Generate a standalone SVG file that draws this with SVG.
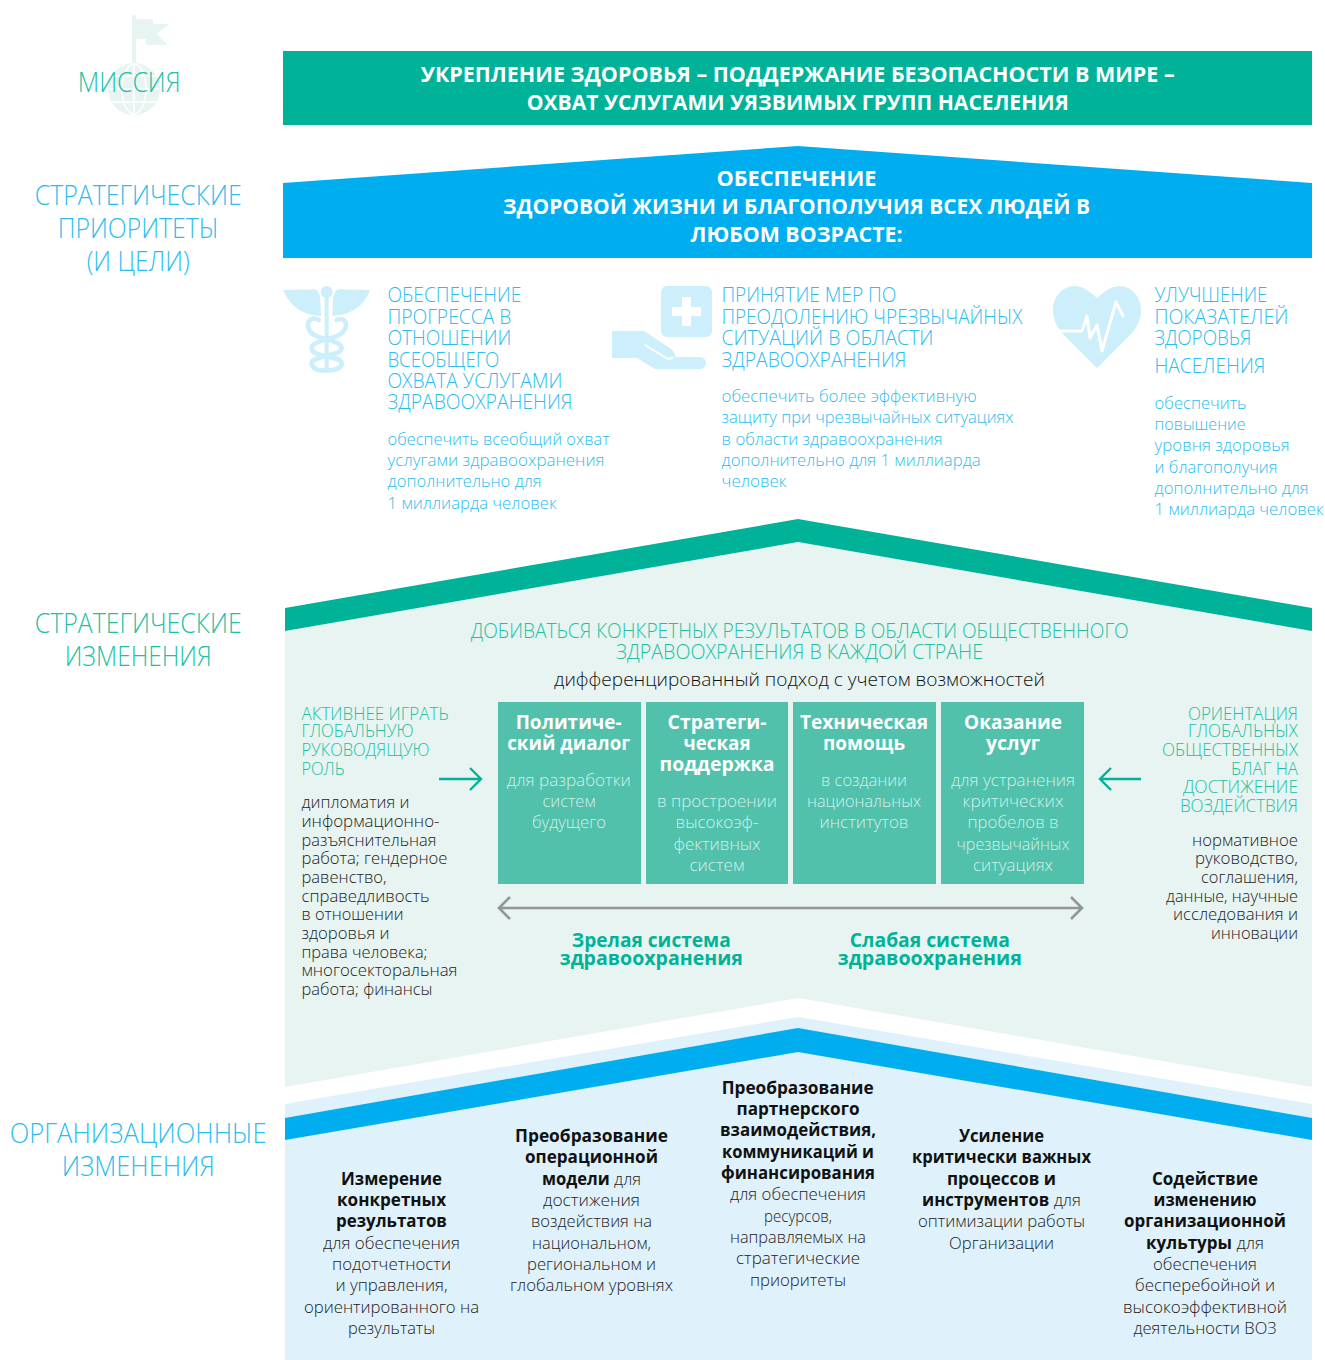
<svg xmlns="http://www.w3.org/2000/svg" width="1325" height="1360" viewBox="0 0 1325 1360">
<style>
text{font-family:"Open Sans","Noto Sans","Liberation Sans",sans-serif;white-space:pre}
.m{text-anchor:middle}.e{text-anchor:end}
.b{font-weight:700}
.side{font-size:28px;font-weight:300}
.sg{fill:#22BFA4}.sc{fill:#2CBCEE}
.ban{font-size:22px;font-weight:700;fill:#fff}
.h{font-size:20px;font-weight:300;fill:#2CBCEE}
.s{font-size:17px;font-weight:300;fill:#2CBCEE}
.g{font-size:20px;font-weight:300;fill:#22BFA4}
.gl{font-size:18px;font-weight:300;fill:#22BFA4}
.d{font-size:17px;font-weight:300;fill:#222}
.bt{font-size:20px;font-weight:700;fill:#fff}
.bs{font-size:17px;font-weight:300;fill:#D3F0E9}
.hs{font-size:19.5px;font-weight:700;fill:#00B398}
.o{font-size:17px;font-weight:300;fill:#222}
.ob{font-weight:700;fill:#111}
.ic{fill:#CDEEFB}.icg{fill:#E7F4F1}
.box{fill:#52C1AC}
.ar{fill:none;stroke:#00B398;stroke-width:2.4}
.ag{fill:none;stroke:#939598;stroke-width:2.6}
</style>

<g id="mission-icon">
<rect class="icg" x="132" y="15" width="4" height="55" rx="2"/>
<polygon class="icg" points="136,19 153,19 153,24 169,24 157,34 168,45 146,45 146,39 136,39"/>
<circle class="icg" cx="134" cy="89" r="26"/>
<g fill="none" stroke="#fff" stroke-width="1.6"><ellipse cx="134" cy="89" rx="12" ry="25"/><path d="M134 63V115M109 89H159M112 76H156M112 102H156"/></g>
</g>
<g id="mission-label"><text class="side sg m" x="129.200" y="92" textLength="103" lengthAdjust="spacingAndGlyphs">МИССИЯ</text></g>
<g id="mission">
<rect x="283" y="51" width="1029" height="74" fill="#00B398"/>
<text class="ban m" x="797.700" y="82" textLength="754" lengthAdjust="spacingAndGlyphs">УКРЕПЛЕНИЕ ЗДОРОВЬЯ – ПОДДЕРЖАНИЕ БЕЗОПАСНОСТИ В МИРЕ –</text>
<text class="ban m" x="797.700" y="110" textLength="542" lengthAdjust="spacingAndGlyphs">ОХВАТ УСЛУГАМИ УЯЗВИМЫХ ГРУПП НАСЕЛЕНИЯ</text>
</g>

<g id="priorities-label">
<text class="side sc m" x="138.200" y="205" textLength="207" lengthAdjust="spacingAndGlyphs">СТРАТЕГИЧЕСКИЕ</text>
<text class="side sc m" x="138.200" y="238" textLength="161" lengthAdjust="spacingAndGlyphs">ПРИОРИТЕТЫ</text>
<text class="side sc m" x="138.200" y="271" textLength="103" lengthAdjust="spacingAndGlyphs">(И ЦЕЛИ)</text>
</g>
<g id="priorities-roof">
<polygon points="283,183 798,146 1312,183 1312,258 283,258" fill="#00AEEF"/>
<text class="ban m" x="796.500" y="186" textLength="160" lengthAdjust="spacingAndGlyphs">ОБЕСПЕЧЕНИЕ</text>
<text class="ban m" x="796.500" y="214" textLength="587" lengthAdjust="spacingAndGlyphs">ЗДОРОВОЙ ЖИЗНИ И БЛАГОПОЛУЧИЯ ВСЕХ ЛЮДЕЙ В</text>
<text class="ban m" x="796.500" y="242" textLength="212" lengthAdjust="spacingAndGlyphs">ЛЮБОМ ВОЗРАСТЕ:</text>
</g>

<g id="priority-1">
<g id="caduceus" transform="translate(270 280) scale(.3333)">
<path class="ic" d="M40 30L135 28Q150 35 151 60L153 108Q100 105 72 78Q48 55 40 30Z"/>
<path class="ic" d="M300 30L205 28Q190 35 189 60L187 108Q240 105 268 78Q292 55 300 30Z"/>
<circle class="ic" cx="170" cy="36" r="18"/>
<rect class="ic" x="164" y="50" width="12" height="225"/>
<g fill="none" stroke="#CDEEFB" stroke-width="14" stroke-linecap="round">
<path d="M146 120C122 105 100 130 125 160"/>
<path d="M200 120C225 108 240 135 215 160C190 180 125 180 125 205C125 235 215 225 215 250C215 268 185 272 165 272"/>
<path d="M128 162C150 180 215 180 215 205C215 228 125 228 125 250C125 268 150 272 165 272"/>
</g>
</g>
<text class="h" x="387.400" y="302" textLength="134" lengthAdjust="spacingAndGlyphs">ОБЕСПЕЧЕНИЕ</text>
<text class="h" x="387.400" y="324" textLength="124" lengthAdjust="spacingAndGlyphs">ПРОГРЕССА В</text>
<text class="h" x="387.400" y="345" textLength="124" lengthAdjust="spacingAndGlyphs">ОТНОШЕНИИ</text>
<text class="h" x="387.400" y="367" textLength="112" lengthAdjust="spacingAndGlyphs">ВСЕОБЩЕГО</text>
<text class="h" x="387.400" y="388" textLength="175" lengthAdjust="spacingAndGlyphs">ОХВАТА УСЛУГАМИ</text>
<text class="h" x="387.400" y="409" textLength="185" lengthAdjust="spacingAndGlyphs">ЗДРАВООХРАНЕНИЯ</text>
<text class="s" x="387.600" y="445" textLength="222" lengthAdjust="spacingAndGlyphs">обеспечить всеобщий охват</text>
<text class="s" x="387.600" y="466" textLength="217" lengthAdjust="spacingAndGlyphs">услугами здравоохранения</text>
<text class="s" x="387.600" y="487" textLength="154" lengthAdjust="spacingAndGlyphs">дополнительно для</text>
<text class="s" x="387.600" y="509" textLength="169" lengthAdjust="spacingAndGlyphs">1 миллиарда человек</text>
</g>

<g id="priority-2">
<g id="hand">
<rect class="ic" x="661" y="286" width="51" height="51" rx="6"/>
<path d="M682 297H691V307H701V316H691V326H682V316H672V307H682Z" fill="#fff"/>
<path class="ic" d="M612 331H644L671 349Q676 353 675 357H700A6 6 0 0 1 700 369H655L637 358H612Z"/>
<path d="M645 345L666 358Q670 360 673 357" fill="none" stroke="#fff" stroke-width="2"/>
</g>
<text class="h" x="721.400" y="302" textLength="175" lengthAdjust="spacingAndGlyphs">ПРИНЯТИЕ МЕР ПО</text>
<text class="h" x="721.400" y="324" textLength="301" lengthAdjust="spacingAndGlyphs">ПРЕОДОЛЕНИЮ ЧРЕЗВЫЧАЙНЫХ</text>
<text class="h" x="721.400" y="345" textLength="212" lengthAdjust="spacingAndGlyphs">СИТУАЦИЙ В ОБЛАСТИ</text>
<text class="h" x="721.400" y="367" textLength="185" lengthAdjust="spacingAndGlyphs">ЗДРАВООХРАНЕНИЯ</text>
<text class="s" x="721.600" y="402" textLength="255" lengthAdjust="spacingAndGlyphs">обеспечить более эффективную</text>
<text class="s" x="721.600" y="423" textLength="292" lengthAdjust="spacingAndGlyphs">защиту при чрезвычайных ситуациях</text>
<text class="s" x="721.600" y="445" textLength="221" lengthAdjust="spacingAndGlyphs">в области здравоохранения</text>
<text class="s" x="721.600" y="466" textLength="259" lengthAdjust="spacingAndGlyphs">дополнительно для 1 миллиарда</text>
<text class="s" x="721.600" y="487" textLength="65" lengthAdjust="spacingAndGlyphs">человек</text>
</g>

<g id="priority-3">
<g id="heart">
<path class="ic" d="M1097 298C1088 290 1082 286 1075 286C1062 286 1053 297 1053 310C1053 318 1056 325 1061 332L1097 368L1133 332C1138 325 1141 318 1141 310C1141 297 1132 286 1119 286C1112 286 1106 290 1097 298Z"/>
<path d="M1058 331H1082L1087 316L1090 338L1097 325L1102 351L1116 302L1123 316" fill="none" stroke="#fff" stroke-width="3" stroke-linejoin="round" stroke-linecap="round"/>
</g>
<text class="h" x="1154.400" y="302" textLength="113" lengthAdjust="spacingAndGlyphs">УЛУЧШЕНИЕ</text>
<text class="h" x="1154.400" y="324" textLength="134" lengthAdjust="spacingAndGlyphs">ПОКАЗАТЕЛЕЙ</text>
<text class="h" x="1154.400" y="345" textLength="97" lengthAdjust="spacingAndGlyphs">ЗДОРОВЬЯ</text>
<text class="h" x="1154.400" y="373" textLength="111" lengthAdjust="spacingAndGlyphs">НАСЕЛЕНИЯ</text>
<text class="s" x="1154.600" y="409" textLength="92" lengthAdjust="spacingAndGlyphs">обеспечить</text>
<text class="s" x="1154.600" y="430" textLength="91" lengthAdjust="spacingAndGlyphs">повышение</text>
<text class="s" x="1154.600" y="451" textLength="135" lengthAdjust="spacingAndGlyphs">уровня здоровья</text>
<text class="s" x="1154.600" y="473" textLength="123" lengthAdjust="spacingAndGlyphs">и благополучия</text>
<text class="s" x="1154.600" y="494" textLength="154" lengthAdjust="spacingAndGlyphs">дополнительно для</text>
<text class="s" x="1154.600" y="515" textLength="169" lengthAdjust="spacingAndGlyphs">1 миллиарда человек</text>
</g>

<g id="shifts-label">
<text class="side sg m" x="138.200" y="633" textLength="207" lengthAdjust="spacingAndGlyphs">СТРАТЕГИЧЕСКИЕ</text>
<text class="side sg m" x="138.200" y="666" textLength="147" lengthAdjust="spacingAndGlyphs">ИЗМЕНЕНИЯ</text>
</g>
<g id="shifts-house">
<polygon points="285,631 798,542 1312,631 1312,1087 798,998 285,1087" fill="#E7F4F1"/>
<polygon points="285,608 798,519 1312,608 1312,631 798,542 285,631" fill="#00B398"/>
<text class="g m" x="799.700" y="638" textLength="658" lengthAdjust="spacingAndGlyphs">ДОБИВАТЬСЯ КОНКРЕТНЫХ РЕЗУЛЬТАТОВ В ОБЛАСТИ ОБЩЕСТВЕННОГО</text>
<text class="g m" x="799.500" y="659" textLength="367" lengthAdjust="spacingAndGlyphs">ЗДРАВООХРАНЕНИЯ В КАЖДОЙ СТРАНЕ</text>
<text class="m" x="799.500" y="686" font-size="19" font-weight="300" fill="#111" textLength="491" lengthAdjust="spacingAndGlyphs">дифференцированный подход с учетом возможностей</text>
</g>

<g id="lead">
<text class="gl" x="301.500" y="720" textLength="147" lengthAdjust="spacingAndGlyphs">АКТИВНЕЕ ИГРАТЬ</text>
<text class="gl" x="301.500" y="737" textLength="112" lengthAdjust="spacingAndGlyphs">ГЛОБАЛЬНУЮ</text>
<text class="gl" x="301.500" y="756" textLength="128" lengthAdjust="spacingAndGlyphs">РУКОВОДЯЩУЮ</text>
<text class="gl" x="301.500" y="775" textLength="43" lengthAdjust="spacingAndGlyphs">РОЛЬ</text>
<text class="d" x="301.500" y="808" textLength="108" lengthAdjust="spacingAndGlyphs">дипломатия и</text>
<text class="d" x="301.500" y="827" textLength="138" lengthAdjust="spacingAndGlyphs">информационно-</text>
<text class="d" x="301.500" y="846" textLength="135" lengthAdjust="spacingAndGlyphs">разъяснительная</text>
<text class="d" x="301.500" y="864" textLength="146" lengthAdjust="spacingAndGlyphs">работа; гендерное</text>
<text class="d" x="301.500" y="883" textLength="85" lengthAdjust="spacingAndGlyphs">равенство,</text>
<text class="d" x="301.500" y="902" textLength="128" lengthAdjust="spacingAndGlyphs">справедливость</text>
<text class="d" x="301.500" y="920" textLength="102" lengthAdjust="spacingAndGlyphs">в отношении</text>
<text class="d" x="301.500" y="939" textLength="88" lengthAdjust="spacingAndGlyphs">здоровья и</text>
<text class="d" x="301.500" y="958" textLength="126" lengthAdjust="spacingAndGlyphs">права человека;</text>
<text class="d" x="301.500" y="976" textLength="156" lengthAdjust="spacingAndGlyphs">многосекторальная</text>
<text class="d" x="301.500" y="995" textLength="131" lengthAdjust="spacingAndGlyphs">работа; финансы</text>
</g>

<g id="goods">
<text class="gl e" x="1298" y="720" textLength="110" lengthAdjust="spacingAndGlyphs">ОРИЕНТАЦИЯ</text>
<text class="gl e" x="1298" y="737" textLength="110" lengthAdjust="spacingAndGlyphs">ГЛОБАЛЬНЫХ</text>
<text class="gl e" x="1298" y="756" textLength="136" lengthAdjust="spacingAndGlyphs">ОБЩЕСТВЕННЫХ</text>
<text class="gl e" x="1298" y="775" textLength="67" lengthAdjust="spacingAndGlyphs">БЛАГ НА</text>
<text class="gl e" x="1298" y="793" textLength="115" lengthAdjust="spacingAndGlyphs">ДОСТИЖЕНИЕ</text>
<text class="gl e" x="1298" y="812" textLength="118" lengthAdjust="spacingAndGlyphs">ВОЗДЕЙСТВИЯ</text>
<text class="d e" x="1298" y="846" textLength="106" lengthAdjust="spacingAndGlyphs">нормативное</text>
<text class="d e" x="1298" y="864" textLength="103" lengthAdjust="spacingAndGlyphs">руководство,</text>
<text class="d e" x="1298" y="883" textLength="97" lengthAdjust="spacingAndGlyphs">соглашения,</text>
<text class="d e" x="1298" y="902" textLength="132" lengthAdjust="spacingAndGlyphs">данные, научные</text>
<text class="d e" x="1298" y="920" textLength="125" lengthAdjust="spacingAndGlyphs">исследования и</text>
<text class="d e" x="1298" y="939" textLength="87" lengthAdjust="spacingAndGlyphs">инновации</text>
</g>

<g id="box-1">
<rect class="box" x="498" y="702" width="143" height="182"/>
<text class="bt m" x="568.700" y="729" textLength="106" lengthAdjust="spacingAndGlyphs">Политиче-</text>
<text class="bt m" x="568.700" y="750" textLength="123" lengthAdjust="spacingAndGlyphs">ский диалог</text>
<text class="bs m" x="568.800" y="786" textLength="124" lengthAdjust="spacingAndGlyphs">для разработки</text>
<text class="bs m" x="569" y="807" textLength="53" lengthAdjust="spacingAndGlyphs">систем</text>
<text class="bs m" x="569" y="828" textLength="74" lengthAdjust="spacingAndGlyphs">будущего</text>
</g>
<g id="box-2">
<rect class="box" x="646" y="702" width="142" height="182"/>
<text class="bt m" x="717" y="729" textLength="99" lengthAdjust="spacingAndGlyphs">Стратеги-</text>
<text class="bt m" x="717" y="750" textLength="67" lengthAdjust="spacingAndGlyphs">ческая</text>
<text class="bt m" x="717" y="771" textLength="115" lengthAdjust="spacingAndGlyphs">поддержка</text>
<text class="bs m" x="717" y="807" textLength="120" lengthAdjust="spacingAndGlyphs">в простроении</text>
<text class="bs m" x="717" y="828" textLength="83" lengthAdjust="spacingAndGlyphs">высокоэф-</text>
<text class="bs m" x="717" y="850" textLength="87" lengthAdjust="spacingAndGlyphs">фективных</text>
<text class="bs m" x="717" y="871" textLength="55" lengthAdjust="spacingAndGlyphs">систем</text>
</g>
<g id="box-3">
<rect class="box" x="793" y="702" width="143" height="182"/>
<text class="bt m" x="864" y="729" textLength="128" lengthAdjust="spacingAndGlyphs">Техническая</text>
<text class="bt m" x="864" y="750" textLength="82" lengthAdjust="spacingAndGlyphs">помощь</text>
<text class="bs m" x="864" y="786" textLength="86" lengthAdjust="spacingAndGlyphs">в создании</text>
<text class="bs m" x="864" y="807" textLength="114" lengthAdjust="spacingAndGlyphs">национальных</text>
<text class="bs m" x="864" y="828" textLength="89" lengthAdjust="spacingAndGlyphs">институтов</text>
</g>
<g id="box-4">
<rect class="box" x="941" y="702" width="143" height="182"/>
<text class="bt m" x="1013" y="729" textLength="98" lengthAdjust="spacingAndGlyphs">Оказание</text>
<text class="bt m" x="1013" y="750" textLength="54" lengthAdjust="spacingAndGlyphs">услуг</text>
<text class="bs m" x="1013" y="786" textLength="124" lengthAdjust="spacingAndGlyphs">для устранения</text>
<text class="bs m" x="1013" y="807" textLength="101" lengthAdjust="spacingAndGlyphs">критических</text>
<text class="bs m" x="1013" y="828" textLength="91" lengthAdjust="spacingAndGlyphs">пробелов в</text>
<text class="bs m" x="1013" y="850" textLength="113" lengthAdjust="spacingAndGlyphs">чрезвычайных</text>
<text class="bs m" x="1013" y="871" textLength="80" lengthAdjust="spacingAndGlyphs">ситуациях</text>
</g>

<g id="connectors">
<path class="ar" d="M439 779H481M470 768L481 779L470 790"/>
<path class="ar" d="M1141 779H1100M1111 768L1100 779L1111 790"/>
<path class="ag" d="M499 908H1082M510 897L499 908L510 919M1071 897L1082 908L1071 919"/>
</g>

<g id="system-labels">
<text class="hs m" x="651.300" y="947" textLength="159" lengthAdjust="spacingAndGlyphs">Зрелая система</text>
<text class="hs m" x="651.300" y="965" textLength="183" lengthAdjust="spacingAndGlyphs">здравоохранения</text>
<text class="hs m" x="929.800" y="947" textLength="160" lengthAdjust="spacingAndGlyphs">Слабая система</text>
<text class="hs m" x="929.800" y="965" textLength="184" lengthAdjust="spacingAndGlyphs">здравоохранения</text>
</g>

<g id="org-label">
<text class="side m" x="138.200" y="1143" fill="#2CBCEE" textLength="257" lengthAdjust="spacingAndGlyphs">ОРГАНИЗАЦИОННЫЕ</text>
<text class="side m" x="138.200" y="1176" fill="#2CBCEE" textLength="153" lengthAdjust="spacingAndGlyphs">ИЗМЕНЕНИЯ</text>
</g>
<g id="org-house">
<polygon points="285,1104 798,1017 1312,1104 1312,1360 285,1360" fill="#DFF1FB"/>
<polygon points="285,1118 798,1028 1312,1118 1312,1140 798,1052 285,1140" fill="#00AEEF"/>
</g>

<g id="org-1">
<text class="o ob m" x="391.500" y="1185" textLength="101" lengthAdjust="spacingAndGlyphs">Измерение</text>
<text class="o ob m" x="391.500" y="1206" textLength="109" lengthAdjust="spacingAndGlyphs">конкретных</text>
<text class="o ob m" x="391.500" y="1227" textLength="111" lengthAdjust="spacingAndGlyphs">результатов</text>
<text class="o m" x="391.500" y="1249" textLength="137" lengthAdjust="spacingAndGlyphs">для обеспечения</text>
<text class="o m" x="391.500" y="1270" textLength="119" lengthAdjust="spacingAndGlyphs">подотчетности</text>
<text class="o m" x="391.500" y="1291" textLength="112" lengthAdjust="spacingAndGlyphs">и управления,</text>
<text class="o m" x="391.500" y="1313" textLength="175" lengthAdjust="spacingAndGlyphs">ориентированного на</text>
<text class="o m" x="391.500" y="1334" textLength="87" lengthAdjust="spacingAndGlyphs">результаты</text>
</g>
<g id="org-2">
<text class="o ob m" x="591.500" y="1142" textLength="153" lengthAdjust="spacingAndGlyphs">Преобразование</text>
<text class="o ob m" x="591.500" y="1163" textLength="133" lengthAdjust="spacingAndGlyphs">операционной</text>
<text class="o m" x="591.500" y="1185" textLength="99" lengthAdjust="spacingAndGlyphs"><tspan class="ob">модели</tspan> для</text>
<text class="o m" x="591.500" y="1206" textLength="97" lengthAdjust="spacingAndGlyphs">достижения</text>
<text class="o m" x="591.500" y="1227" textLength="121" lengthAdjust="spacingAndGlyphs">воздействия на</text>
<text class="o m" x="591.500" y="1249" textLength="119" lengthAdjust="spacingAndGlyphs">национальном,</text>
<text class="o m" x="591.500" y="1270" textLength="129" lengthAdjust="spacingAndGlyphs">региональном и</text>
<text class="o m" x="591.500" y="1291" textLength="163" lengthAdjust="spacingAndGlyphs">глобальном уровнях</text>
</g>
<g id="org-3">
<text class="o ob m" x="797.700" y="1094" textLength="152" lengthAdjust="spacingAndGlyphs">Преобразование</text>
<text class="o ob m" x="798" y="1115" textLength="123" lengthAdjust="spacingAndGlyphs">партнерского</text>
<text class="o ob m" x="798" y="1136" textLength="156" lengthAdjust="spacingAndGlyphs">взаимодействия,</text>
<text class="o ob m" x="798" y="1158" textLength="152" lengthAdjust="spacingAndGlyphs">коммуникаций и</text>
<text class="o ob m" x="798" y="1179" textLength="154" lengthAdjust="spacingAndGlyphs">финансирования</text>
<text class="o m" x="798" y="1200" textLength="136" lengthAdjust="spacingAndGlyphs">для обеспечения</text>
<text class="o m" x="798" y="1222" textLength="68" lengthAdjust="spacingAndGlyphs">ресурсов,</text>
<text class="o m" x="798" y="1243" textLength="136" lengthAdjust="spacingAndGlyphs">направляемых на</text>
<text class="o m" x="798" y="1264" textLength="124" lengthAdjust="spacingAndGlyphs">стратегические</text>
<text class="o m" x="798" y="1286" textLength="96" lengthAdjust="spacingAndGlyphs">приоритеты</text>
</g>
<g id="org-4">
<text class="o ob m" x="1001.500" y="1142" textLength="85" lengthAdjust="spacingAndGlyphs">Усиление</text>
<text class="o ob m" x="1001.500" y="1163" textLength="179" lengthAdjust="spacingAndGlyphs">критически важных</text>
<text class="o ob m" x="1001.500" y="1185" textLength="109" lengthAdjust="spacingAndGlyphs">процессов и</text>
<text class="o m" x="1001.500" y="1206" textLength="159" lengthAdjust="spacingAndGlyphs"><tspan class="ob">инструментов</tspan> для</text>
<text class="o m" x="1001.500" y="1227" textLength="167" lengthAdjust="spacingAndGlyphs">оптимизации работы</text>
<text class="o m" x="1001.500" y="1249" textLength="105" lengthAdjust="spacingAndGlyphs">Организации</text>
</g>
<g id="org-5">
<text class="o ob m" x="1205" y="1185" textLength="106" lengthAdjust="spacingAndGlyphs">Содействие</text>
<text class="o ob m" x="1205" y="1206" textLength="103" lengthAdjust="spacingAndGlyphs">изменению</text>
<text class="o ob m" x="1205" y="1227" textLength="162" lengthAdjust="spacingAndGlyphs">организационной</text>
<text class="o m" x="1205" y="1249" textLength="118" lengthAdjust="spacingAndGlyphs"><tspan class="ob">культуры</tspan> для</text>
<text class="o m" x="1205" y="1270" textLength="104" lengthAdjust="spacingAndGlyphs">обеспечения</text>
<text class="o m" x="1205" y="1291" textLength="140" lengthAdjust="spacingAndGlyphs">бесперебойной и</text>
<text class="o m" x="1205" y="1313" textLength="164" lengthAdjust="spacingAndGlyphs">высокоэффективной</text>
<text class="o m" x="1205" y="1334" textLength="143" lengthAdjust="spacingAndGlyphs">деятельности ВОЗ</text>
</g>
</svg>
